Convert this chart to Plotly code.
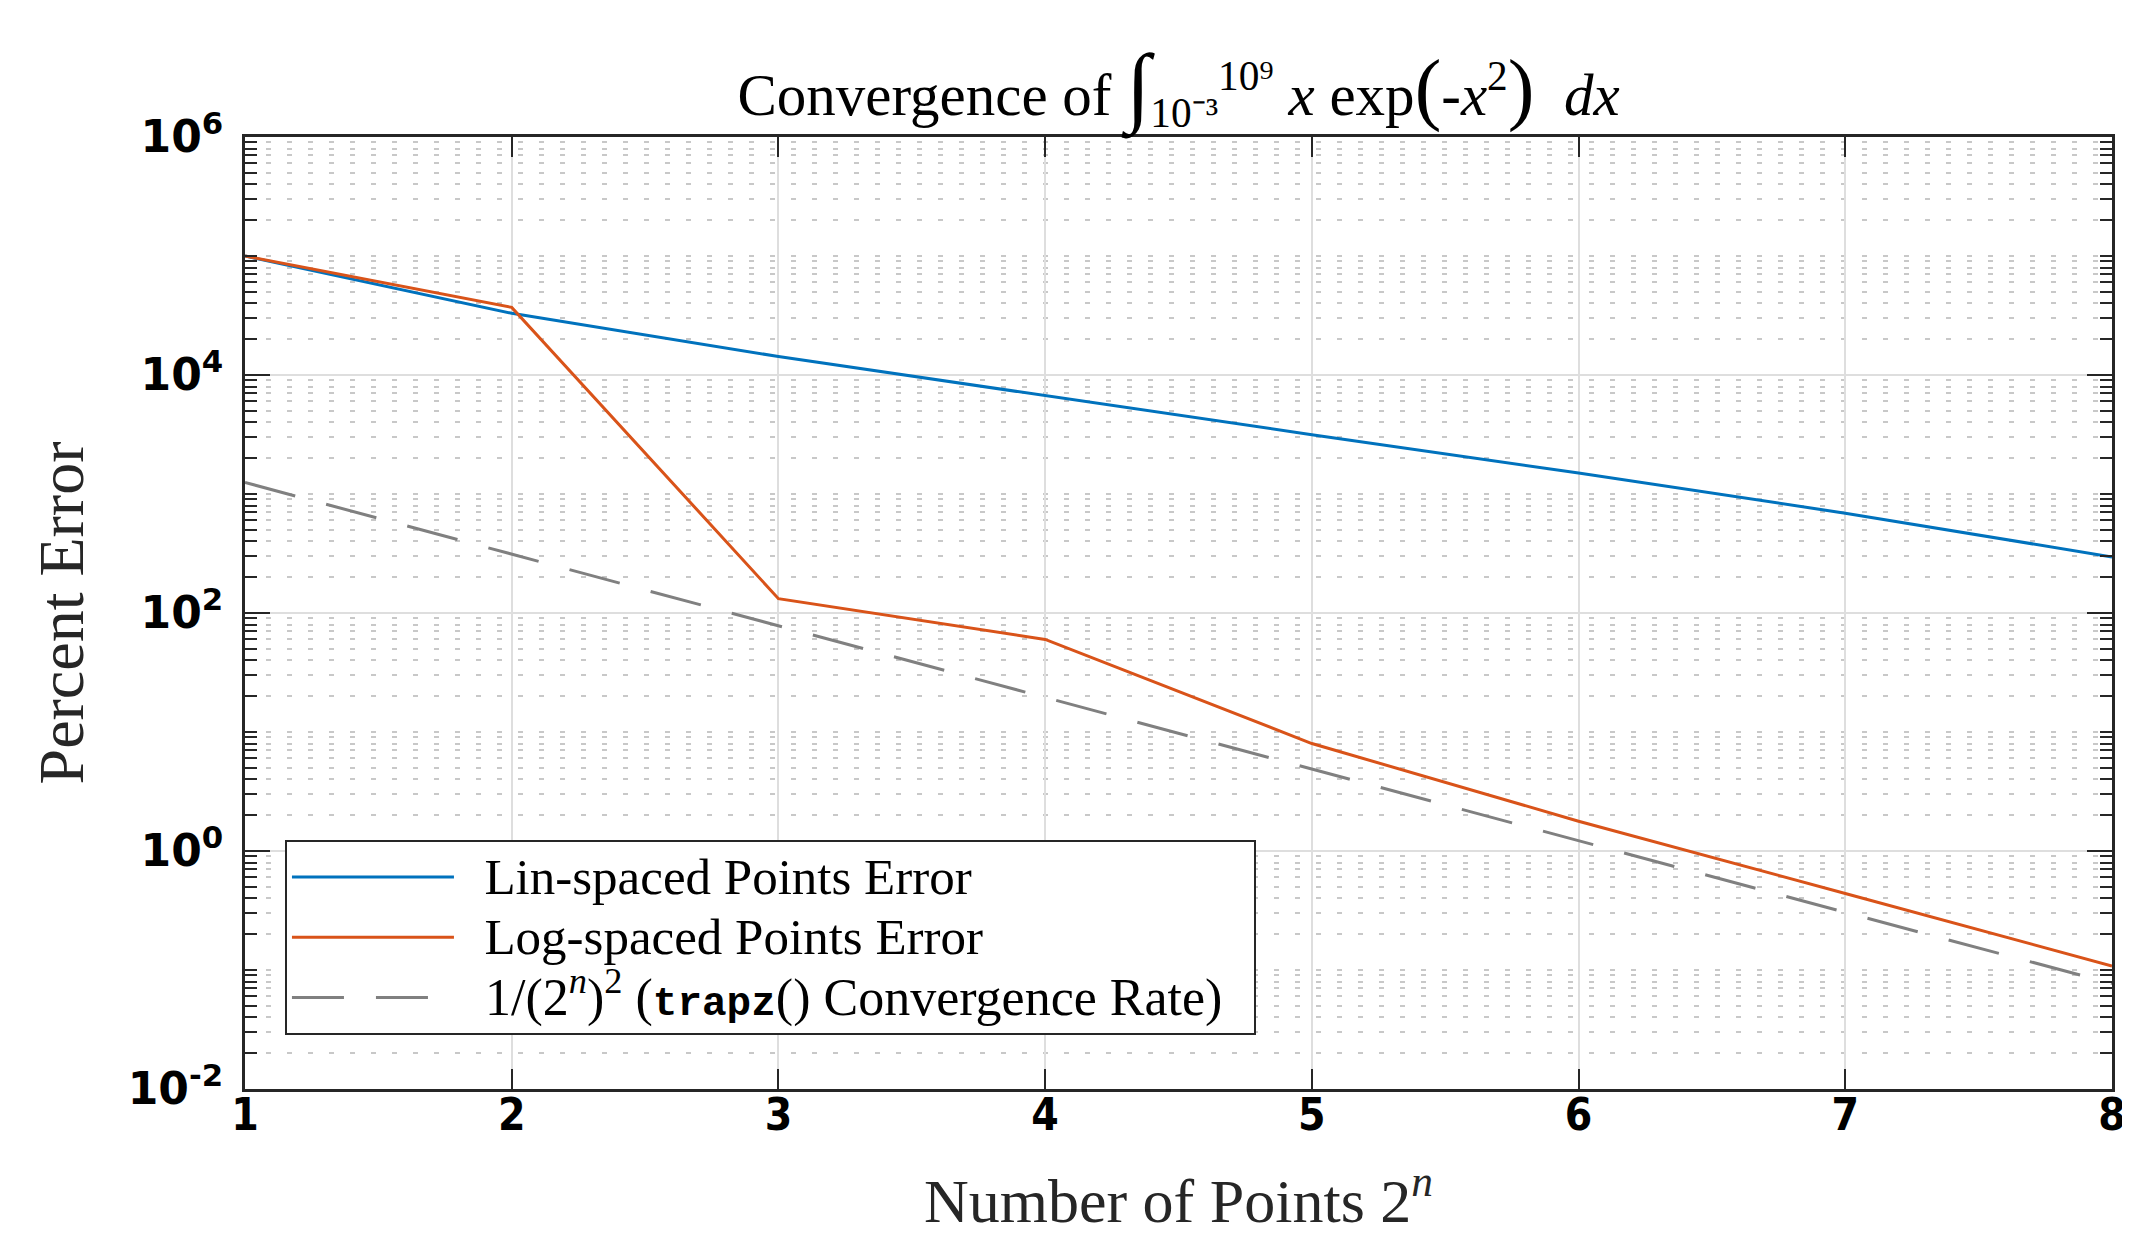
import plotly.graph_objects as go

# Data
n_values = [1, 2, 3, 4, 5, 6, 7, 8]
lin_error = [1.0e5, 3.3e4, 1.43e4, 6.7e3, 3.15e3, 1.5e3, 6.9e2, 2.96e2]
log_error = [1.0e5, 3.7e4, 132, 60, 8.0, 1.78, 0.44, 0.108]
trapz_rate = [1250, 312, 78, 19.5, 4.9, 1.22, 0.305, 0.077]

y_tick_vals = [1e-2, 1e0, 1e2, 1e4, 1e6]
y_tick_text = ["10<sup>-2</sup>", "10<sup>0</sup>", "10<sup>2</sup>", "10<sup>4</sup>", "10<sup>6</sup>"]
x_tick_vals = [1, 2, 3, 4, 5, 6, 7, 8]

NB = "\u00a0"
names = [
    "<span style='font-size:51px'>" + NB + NB + "Lin-spaced Points Error</span>",
    "<span style='font-size:51px'>" + NB + NB + "Log-spaced Points Error</span>",
    "<span style='font-size:52px'>" + NB + NB + "1/(2<sup><i>n</i></sup>)<sup>2</sup> (<b><span style='font-family:Liberation Mono;font-size:41px'>trapz</span></b>() Convergence Rate)" + NB + NB + "</span>",
]

SERIF = "Liberation Serif"
AXC = "#262626"

fig = go.Figure()
fig.add_trace(go.Scatter(x=n_values, y=lin_error, mode="lines", name=names[0],
                         line=dict(color="#0072BD", width=3)))
fig.add_trace(go.Scatter(x=n_values, y=log_error, mode="lines", name=names[1],
                         line=dict(color="#D95319", width=3)))
fig.add_trace(go.Scatter(x=n_values, y=trapz_rate, mode="lines", name=names[2],
                         line=dict(color="#808080", width=3, dash="52px,32px")))

title_text = ("Convergence of <span style='font-size:88px'>∫</span>"
              "<sub>10⁻³</sub><sup>10⁹</sup> <i>x</i> exp"
              "<span style='font-size:80px'>(</span>-<i>x</i><sup>2</sup>"
              "<span style='font-size:80px'>)</span>  <i>dx</i>")

# page body has an 8px margin, so the figure is 8px smaller and margins compensate
fig.update_layout(
    width=2122, height=1227,
    margin=dict(l=237, r=18, t=129, b=146),
    paper_bgcolor="white", plot_bgcolor="white",
    title=dict(
        text=title_text,
        font=dict(family=SERIF, size=59, color="black"),
        x=0.5, xref="paper", xanchor="center", y=0.93, yanchor="middle",
    ),
    showlegend=True,
    legend=dict(
        x=0.0214, y=0.2616, xanchor="left", yanchor="top",
        bgcolor="white", bordercolor=AXC, borderwidth=2,
        font=dict(family=SERIF, size=44, color="black"),
        itemwidth=162, tracegroupgap=0,
    ),
)

fig.update_xaxes(
    range=[1, 8], tickmode="array", tickvals=x_tick_vals, automargin=False,
    ticks="inside", ticklen=20, tickwidth=2, tickcolor=AXC,
    showline=True, linewidth=3, linecolor=AXC, mirror="allticks",
    showgrid=True, gridcolor="#dedede", gridwidth=2, zeroline=False,
    tickfont=dict(family="DejaVu Sans Condensed", size=44, color="black", weight="bold"),
    ticklabelstandoff=-15,
    title=dict(text="Number of Points 2<sup><i>n</i></sup>",
               font=dict(family=SERIF, size=62, color=AXC), standoff=56),
)

fig.update_yaxes(
    type="log", range=[-2, 6], tickmode="array", tickvals=y_tick_vals, ticktext=y_tick_text,
    automargin=False,
    ticks="inside", ticklen=25, tickwidth=2, tickcolor=AXC,
    showline=True, linewidth=3, linecolor=AXC, mirror="allticks",
    showgrid=True, gridcolor="#dedede", gridwidth=2, zeroline=False,
    tickfont=dict(family="DejaVu Sans", size=44, color="black", weight="bold"),
    ticklabelstandoff=10,
    minor=dict(dtick="D1", ticks="inside", ticklen=12, tickwidth=2, tickcolor=AXC,
               showgrid=True, gridcolor="#c8c8c8", gridwidth=2, griddash="5px,16px"),
    title=dict(text="Percent Error", font=dict(family=SERIF, size=64, color=AXC), standoff=24),
)

fig.write_html("out.html")
